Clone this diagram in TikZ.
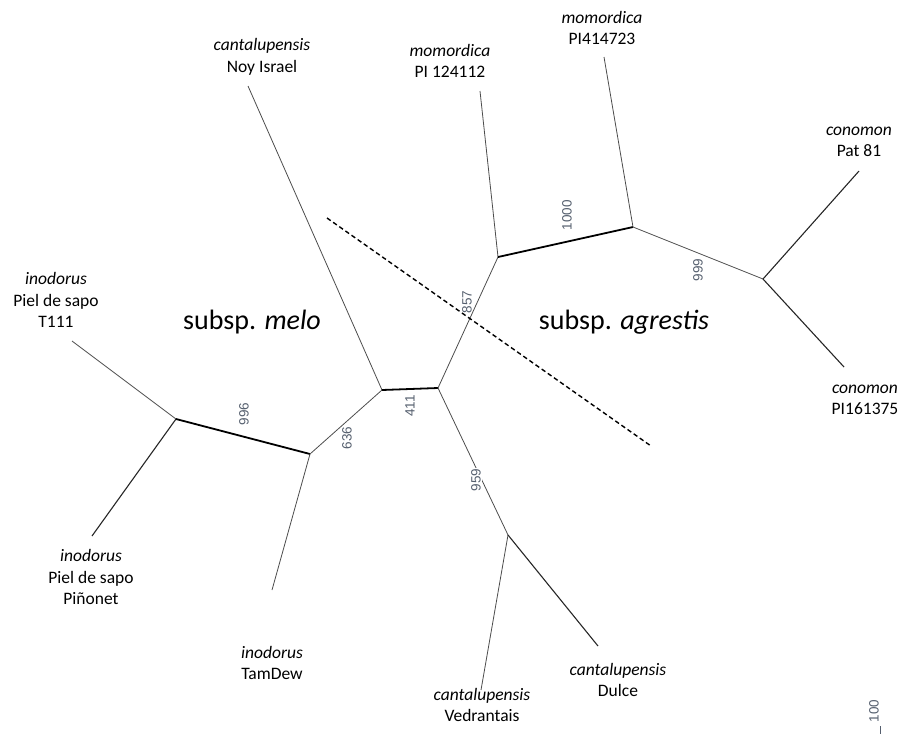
\documentclass[tikz,border=0pt]{standalone}
\usepackage{fontspec}
\setmainfont{Carlito}
\newfontfamily\numfont{Liberation Sans}
\definecolor{bootcol}{RGB}{85,95,110}
\begin{document}
\begin{tikzpicture}[x=1pt,y=-1pt,
  thin branch/.style={draw=black!70,line width=0.8pt},
  dark branch/.style={draw=black!85,line width=1.1pt},
  thick branch/.style={draw=black,line width=1.8pt},
  taxon/.style={align=center,inner sep=0pt,font=\fontsize{17.5}{21.5}\selectfont},
  subsp/.style={inner sep=0pt,font=\fontsize{28}{30}\selectfont},
  boot/.style={inner sep=0pt,rotate=90,text=bootcol,font=\numfont\fontsize{13.5}{14}\selectfont}]
\useasboundingbox (0,0) rectangle (920,737);
% internal nodes
\coordinate (A) at (176,419);
\coordinate (B) at (310,454);
\coordinate (C) at (382,390);
\coordinate (D) at (438,388);
\coordinate (E) at (498,257);
\coordinate (G) at (633,227);
\coordinate (H) at (763,279);
\coordinate (F) at (508,535);
% tips
\coordinate (tT111) at (72,341);
\coordinate (tPin) at (92,536);
\coordinate (tTam) at (272,590);
\coordinate (tNoy) at (248,86);
\coordinate (tPI124) at (480,91);
\coordinate (tPI414) at (604,57);
\coordinate (tPat) at (859,171);
\coordinate (tPI161) at (844,367);
\coordinate (tVed) at (481,690);
\coordinate (tDul) at (598,646);
% branches
\draw[thin branch] (A) -- (tT111);
\draw[dark branch] (A) -- (tPin);
\draw[thick branch] (A) -- (B);
\draw[thin branch] (B) -- (tTam);
\draw[thin branch] (B) -- (C);
\draw[thin branch] (C) -- (tNoy);
\draw[thick branch] (C) -- (D);
\draw[thin branch] (D) -- (E);
\draw[thin branch] (D) -- (F);
\draw[thin branch] (E) -- (tPI124);
\draw[thick branch] (E) -- (G);
\draw[thin branch] (G) -- (tPI414);
\draw[thin branch] (G) -- (H);
\draw[dark branch] (H) -- (tPat);
\draw[dark branch] (H) -- (tPI161);
\draw[thin branch] (F) -- (tVed);
\draw[dark branch] (F) -- (tDul);
% dividing line
\coordinate (dl1) at (327,218);
\coordinate (dl2) at (651,446);
\draw[black,line width=1.4pt,dash pattern=on 4.5pt off 3pt] (dl1) -- (dl2);
% taxon labels
\node[taxon] (lNoy) at (262,57) {\textit{cantalupensis}\\Noy Israel};
\node[taxon] (lPI124) at (450,61) {\textit{momordica}\\PI 124112};
\node[taxon] (lPI414) at (602,28) {\textit{momordica}\\PI414723};
\node[taxon] (lPat) at (859,142) {\textit{conomon}\\Pat 81};
\node[taxon] (lT111) at (56,300) {\textit{inodorus}\\Piel de sapo\\T111};
\node[taxon] (lPI161) at (865,400) {\textit{conomon}\\PI161375};
\node[taxon] (lPin) at (91,577) {\textit{inodorus}\\Piel de sapo\\Piñonet};
\node[taxon] (lTam) at (272,663) {\textit{inodorus}\\TamDew};
\node[taxon] (lDul) at (618,680) {\textit{cantalupensis}\\Dulce};
\node[taxon] (lVed) at (482,705) {\textit{cantalupensis}\\Vedrantais};
% subspecies
\node[subsp] (smelo) at (252,322) {subsp. \textit{melo}};
\node[subsp] (sagr) at (624,322) {subsp. \textit{agrestis}};
% bootstrap values
\node[boot] (b996) at (244,414) {996};
\node[boot] (b636) at (347,438) {636};
\node[boot] (b411) at (410,406) {411};
\node[boot] (b857) at (467,302) {857};
\node[boot] (b1000) at (567,215) {1000};
\node[boot] (b999) at (698,270) {999};
\node[boot,fill=white,inner sep=1pt] (b959) at (476,480) {959};
% scale
\node[boot] (scale) at (874,711) {100};
\coordinate (sc1) at (880,726);
\coordinate (sc2) at (880,734);
\draw[bootcol,line width=0.8pt] (sc1) -- (sc2);
\end{tikzpicture}
\end{document}
